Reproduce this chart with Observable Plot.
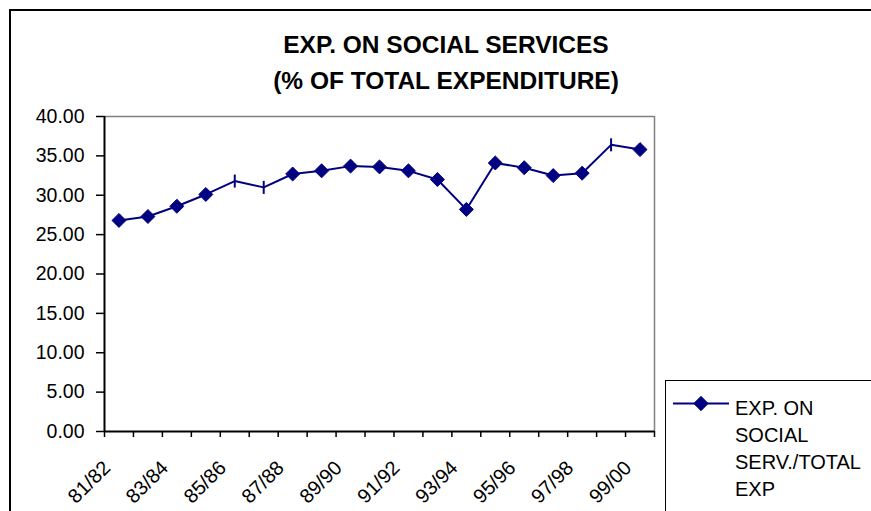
<!DOCTYPE html>
<html>
<head>
<meta charset="utf-8">
<script src="https://cdn.jsdelivr.net/npm/d3@7"></script>
<script src="https://cdn.jsdelivr.net/npm/@observablehq/plot@0.6"></script>
<style>
  html, body { margin: 0; padding: 0; background: #fff; }
  #wrap { position: relative; width: 871px; height: 511px; overflow: hidden; font-family: "Liberation Sans", Arial, sans-serif; }
  #border { position: absolute; left: 9px; top: 9px; width: 1000px; height: 1000px; border: 2px solid #000; box-sizing: border-box; }
  #title { position: absolute; left: 0; top: 27px; width: 892px; text-align: center; font-weight: bold; font-size: 24.5px; line-height: 36px; color: #000; }
  #chart { position: absolute; left: 0; top: 0; }
  #legend { position: absolute; left: 665px; top: 380px; width: 300px; height: 200px; border: 1.5px solid #000; box-sizing: border-box; background: #fff; }
  #legend svg { position: absolute; left: 0; top: 0; }
  #legend .txt { position: absolute; left: 69px; top: 14px; font-size: 20px; line-height: 27px; color: #000; }
</style>
</head>
<body>
<div id="wrap">
  <div id="border"></div>
  <div id="title">EXP. ON SOCIAL SERVICES<br>(% OF TOTAL EXPENDITURE)</div>
  <div id="chart"></div>
  <div id="legend"></div>
</div>
<script>
const categories = ["81/82","82/83","83/84","84/85","85/86","86/87","87/88","88/89","89/90","90/91","91/92","92/93","93/94","94/95","95/96","96/97","97/98","98/99","99/00"];
const values = [26.8, 27.3, 28.6, 30.1, 31.8, 31.0, 32.7, 33.1, 33.7, 33.6, 33.1, 32.0, 28.2, 34.1, 33.5, 32.5, 32.8, 36.4, 35.8];
const markerShown = [true, true, true, true, false, false, true, true, true, true, true, true, true, true, true, true, true, false, true];
const yTicks = [0, 5, 10, 15, 20, 25, 30, 35, 40];
const labelledCategories = ["81/82","83/84","85/86","87/88","89/90","91/92","93/94","95/96","97/98","99/00"];
const seriesName = ["EXP. ON", "SOCIAL", "SERV./TOTAL", "EXP"];

const navy = "#000080";
const data = categories.map((c, i) => ({i, label: c, value: values[i], shown: markerShown[i]}));
const boundaries = d3.range(categories.length + 1).map(i => i - 0.5);
const labelIdx = labelledCategories.map(c => categories.indexOf(c));

const vbar = {draw(ctx, size) { const r = Math.sqrt(size / Math.PI); ctx.moveTo(0, -r); ctx.lineTo(0, r); }};

const chart = Plot.plot({
  width: 871, height: 511,
  marginLeft: 104, marginRight: 217, marginTop: 116, marginBottom: 80,
  x: {type: "linear", domain: [-0.5, categories.length - 0.5]},
  y: {domain: [0, 40]},
  style: {fontFamily: "'Liberation Sans', Arial, sans-serif", fontSize: "19px", background: "transparent", color: "#000"},
  marks: [
    Plot.ruleY([40], {stroke: "#808080", strokeWidth: 1.5}),
    Plot.ruleX([categories.length - 0.5], {stroke: "#808080", strokeWidth: 1.5}),
    Plot.axisY({ticks: yTicks, tickFormat: d => d.toFixed(2), tickSize: 8, tickPadding: 12, strokeWidth: 1.5, strokeOpacity: 1, fontSize: 19.5, label: null}),
    Plot.axisX({ticks: boundaries, tickFormat: () => "", tickSize: 6, strokeWidth: 1.5, strokeOpacity: 1, label: null}),
    Plot.axisX({ticks: labelIdx, tickFormat: i => categories[i], tickSize: 0, tickPadding: 33, dx: -12, tickRotate: -45, fontSize: 20, label: null}),
    Plot.ruleX([-0.5], {stroke: "#000", strokeWidth: 2}),
    Plot.ruleY([0], {stroke: "#000", strokeWidth: 2}),
    Plot.line(data, {x: "i", y: "value", stroke: navy, strokeWidth: 2}),
    Plot.dot(data.filter(d => d.shown), {x: "i", y: "value", symbol: "diamond2", r: 6.3, fill: navy, stroke: navy, strokeWidth: 1}),
    Plot.dot(data.filter(d => !d.shown), {x: "i", y: "value", symbol: vbar, r: 6.5, fill: "none", stroke: navy, strokeWidth: 2})
  ]
});
document.getElementById("chart").appendChild(chart);

// legend
const legend = document.getElementById("legend");
const ls = d3.create("svg").attr("width", 70).attr("height", 50);
ls.append("line").attr("x1", 7).attr("x2", 63).attr("y1", 22.5).attr("y2", 22.5).attr("stroke", navy).attr("stroke-width", 2);
ls.append("path").attr("d", d3.symbol(d3.symbolDiamond2, 130)()).attr("transform", "translate(35,22.5)").attr("fill", navy).attr("stroke", navy);
legend.appendChild(ls.node());
const txt = document.createElement("div");
txt.className = "txt";
txt.innerHTML = seriesName.join("<br>");
legend.appendChild(txt);
</script>
</body>
</html>
